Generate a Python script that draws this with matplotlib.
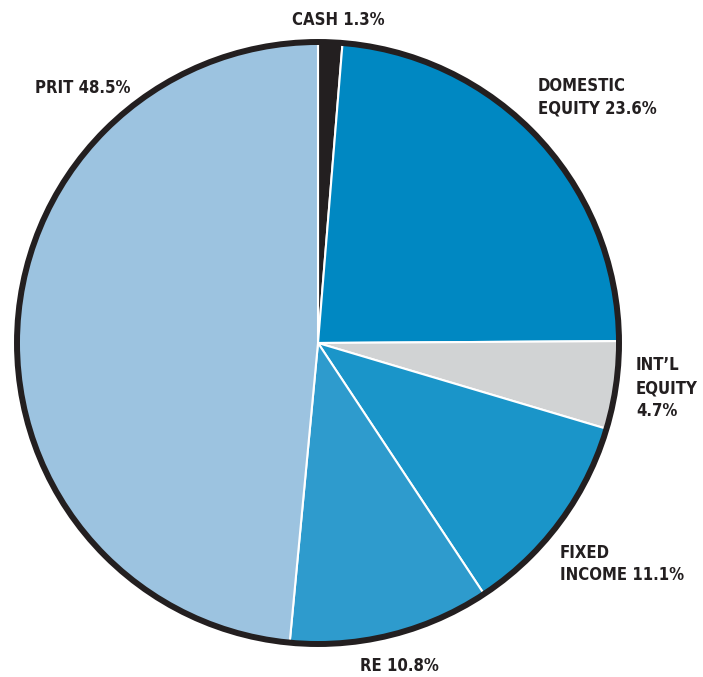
import matplotlib.pyplot as plt
from matplotlib.patches import Circle

# Данные распределения активов
labels = ['CASH 1.3%', 'DOMESTIC\nEQUITY 23.6%', 'INT\u2019L\nEQUITY\n4.7%',
          'FIXED\nINCOME 11.1%', 'RE 10.8%', 'PRIT 48.5%']
shares = [1.3, 23.6, 4.7, 11.1, 10.8, 48.5]
colors = ['#231f20', '#0088c2', '#d1d3d4', '#1a95c9', '#2e9bcd', '#9cc3e0']

# Положение подписей (в пикселях от левого верхнего угла)
label_px = [(292, 20), (538, 97), (636, 388), (560, 564), (360, 666), (35, 88)]

W, H = 703, 677
fig = plt.figure(figsize=(W / 100, H / 100), dpi=100)
plt.rcParams['font.family'] = ['DejaVu Sans']

R = 301
pad = 1.03
cx, cy = 318, 343
ax = fig.add_axes([(cx - R * pad) / W, (H - cy - R * pad) / H,
                   2 * R * pad / W, 2 * R * pad / H])

ax.pie(shares, colors=colors, startangle=90, counterclock=False,
       wedgeprops=dict(edgecolor='white', linewidth=1.5))
ax.add_patch(Circle((0, 0), 1, fill=False, edgecolor='#231f20', linewidth=4.3))
ax.set_xlim(-pad, pad)
ax.set_ylim(-pad, pad)
ax.axis('off')

for text, (px, py) in zip(labels, label_px):
    fig.text(px / W, 1 - py / H, text, ha='left', va='center',
             fontsize=12, fontweight='bold', fontstretch='condensed',
             color='#231f20', linespacing=1.35)

plt.savefig('out.png', dpi=100)
